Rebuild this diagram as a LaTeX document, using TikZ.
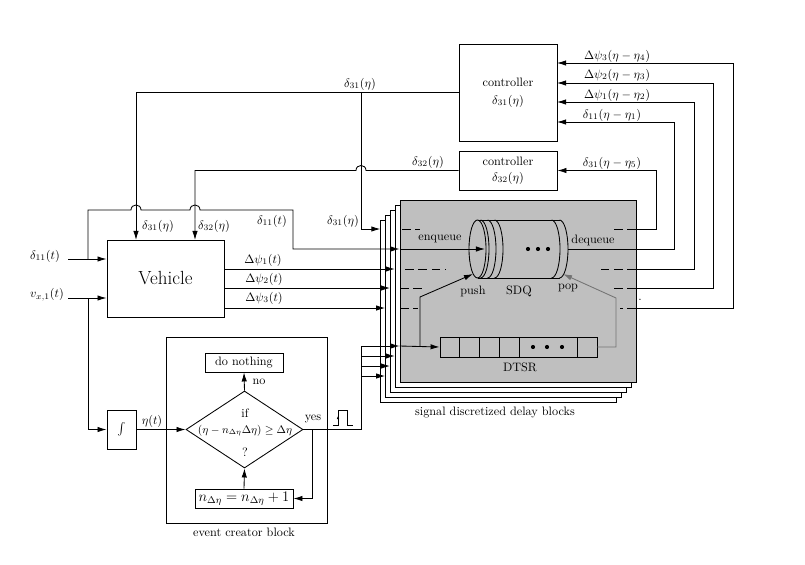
\documentclass[tikz,border=0pt]{standalone}
\usetikzlibrary{arrows.meta,shapes.geometric}
\def\upx{0.82pt}
\begin{document}
\begin{tikzpicture}[x=0.82pt,y=-0.82pt,line width=0.7pt,
  arr/.style={-{Latex[length=7.4pt,width=4.4pt]}},
  blk/.style={draw,inner sep=0pt,align=center},
  lbl/.style={inner sep=0pt},
  dsh/.style={dash pattern=on 7pt off 4pt}]
\useasboundingbox (0,0) rectangle (805,564);

% ---------- stacked signal discretized delay blocks
\foreach \k in {4,3,2,1}
  \node[blk,fill=white,minimum width=236*\upx,minimum height=182*\upx] (sb\k) at ({518-4.8*\k},{291+5*\k}) {};
\node[blk,fill=gray!50,minimum width=236*\upx,minimum height=182*\upx] (sb0) at (518,291) {};
\node[lbl] (sdbl) at (495,413) {signal discretized delay blocks};

% ---------- SDQ cylinder
\draw (477.5,249) ellipse [x radius=8.5*\upx, y radius=29*\upx];
\foreach \c in {480.5,487.5,494.5,551.5,559.5}
  \draw (\c,220) arc [start angle=90, end angle=-90, x radius=8.5*\upx, y radius=29*\upx];
\draw (477.5,220) -- (559.5,220);
\draw (477.5,278) -- (559.5,278);
\foreach \d in {528,538,548} \fill (\d,249) circle [radius=1.7pt];
\node[lbl] (enq) at (440,239) {enqueue};
\node[lbl] (deq) at (593,240) {dequeue};
\node[lbl] (push) at (473,291) {push};
\node[lbl] (sdq) at (519,291) {SDQ};
\node[lbl] (pop) at (568,288) {pop};

% ---------- DTSR
\node[blk,minimum width=157*\upx,minimum height=20*\upx] (dtsr) at (518.5,347) {};
\foreach \xx in {459,479,499,519,577} \draw (\xx,337) -- (\xx,357);
\foreach \d in {533,547,562} \fill (\d,347) circle [radius=1.7pt];
\node[lbl] (dtsrl) at (520,367) {DTSR};

% ---------- blocks
\node[blk,minimum width=117*\upx,minimum height=77*\upx,font=\fontsize{15.6}{18}\selectfont] (veh) at (165.5,278.5) {Vehicle};
\node[blk,minimum width=98*\upx,minimum height=97*\upx] (c1) at (508,92.5) {controller\\[2.5pt]$\delta_{31}(\eta)$};
\node[blk,minimum width=98*\upx,minimum height=39*\upx] (c2) at (508,170.5) {controller\\[1pt]$\delta_{32}(\eta)$};
\node[blk,minimum width=29*\upx,minimum height=39*\upx] (int) at (121.5,429.5) {$\int$};
\node[blk,minimum width=161*\upx,minimum height=186*\upx] (ev) at (246.5,430) {};
\node[lbl] (evl) at (244,532) {event creator block};
\node[draw,diamond,inner sep=0pt,minimum width=117*\upx,minimum height=77*\upx] (dia) at (244.5,429.5) {};
\node[lbl] (if) at (245,413) {if};
\node[lbl,font=\small] (cond) at (245,431) {$(\eta-n_{\Delta\eta}\Delta\eta)\geq\Delta\eta$};
\node[lbl] (qm) at (245,452) {?};
\node[blk,minimum width=78*\upx,minimum height=19*\upx] (dn) at (244,362.5) {do nothing};
\node[blk,minimum width=98*\upx,minimum height=19*\upx,font=\large] (nb) at (244,498.5) {$n_{\Delta\eta}=n_{\Delta\eta}+1$};

% ---------- coordinates
\coordinate (d11in) at (68,259);
\coordinate (vxin) at (68,298);
\coordinate (j1) at (88,259);
\coordinate (j2) at (88,298);
\coordinate (e11) at (293,249);
\coordinate (enqtip) at (485,249);
\coordinate (o1) at (224,269);
\coordinate (o2) at (224,288);
\coordinate (o3) at (224,308);
\coordinate (v31) at (136,240);
\coordinate (v32) at (195,240);
\coordinate (b31) at (361,92.5);
\coordinate (b31e) at (361,229);
\coordinate (r5) at (636,229);
\coordinate (cyr) at (568,249);
\coordinate (r1) at (636,269);
\coordinate (r2) at (636,288);
\coordinate (r3) at (636,308);
\coordinate (ci1) at (557,122);
\coordinate (ci2) at (557,102);
\coordinate (ci3) at (557,83);
\coordinate (ci4) at (557,63);
\coordinate (yb) at (312,429.5);
\coordinate (ye) at (361,429.5);
\coordinate (p0) at (361,346);
\coordinate (p1) at (361,356);
\coordinate (p2) at (361,366);
\coordinate (p3) at (361,376);
\coordinate (pb) at (420,346);
\coordinate (pushtip) at (473,274);
\coordinate (poptip) at (563,274);

% ---------- vehicle inputs
\node[lbl] (l11) at (45,256) {$\delta_{11}(t)$};
\node[lbl] (lvx) at (47,295) {$v_{x,1}(t)$};
\draw[arr] (d11in) -- (d11in -| veh.west);
\draw[arr] (vxin) -- (vxin -| veh.west);

% delta11 branch with hops
\draw[arr] (j1) -- (88,210) -- (131,210) .. controls (131,203.3) and (141,203.3) .. (141,210)
  -- (190,210) .. controls (190,203.3) and (200,203.3) .. (200,210) -- (293,210) -- (e11) -- (e11 -| sb0.west);
\draw[arr] (e11 -| sb0.west) -- (enqtip);
\node[lbl] (l11b) at (272,221) {$\delta_{11}(t)$};

% vx to integrator
\draw[arr] (j2) |- (int.west);

% vehicle outputs
\draw[arr] (o1) -- (o1 -| sb1.west);
\draw[arr] (o2) -- (o2 -| sb2.west);
\draw[arr] (o3) -- (o3 -| sb3.west);
\node[lbl] at (263,260) {$\Delta\psi_1(t)$};
\node[lbl] at (264,279) {$\Delta\psi_2(t)$};
\node[lbl] at (264,298) {$\Delta\psi_3(t)$};

% controller outputs
\draw[arr] (c1.west) -| (v31);
\draw[arr] (b31) -- (b31e) -- (b31e -| sb4.west);
\draw[arr] (c2.west) -- (366,170.5) .. controls (366,163.8) and (356,163.8) .. (356,170.5) -- (195,170.5) -- (v32);
\node[lbl] at (360,84) {$\delta_{31}(\eta)$};
\node[lbl] at (428,162) {$\delta_{32}(\eta)$};
\node[lbl] at (158,226) {$\delta_{31}(\eta)$};
\node[lbl] at (214,226) {$\delta_{32}(\eta)$};
\node[lbl] at (343,221) {$\delta_{31}(\eta)$};

% dashes inside main block
\draw[dsh] (402,229) -- (420,229);
\draw[dsh] (405,269) -- (446,269);
\draw[dsh] (400,288) -- (426,288);
\draw[dsh] (400,308) -- (418,308);
\draw[dsh] (r5) -- (611,229);
\draw[dsh] (r1) -- (596,269);
\draw[dsh] (r2) -- (611,288);
\draw[dsh] (r3) -- (620,308);

% returns to controllers
\draw[arr] (r5) -- (656,229) |- (c2.east);
\draw[arr] (cyr) -- (674,249) |- (ci1);
\draw[arr] (r1) -- (694,269) |- (ci2);
\draw[arr] (r2) -- (713,288) |- (ci3);
\draw[arr] (r3) -- (733,308) |- (ci4);
\node[lbl] at (617,56) {$\Delta\psi_3(\eta-\eta_4)$};
\node[lbl] at (617,75) {$\Delta\psi_2(\eta-\eta_3)$};
\node[lbl] at (617,95) {$\Delta\psi_1(\eta-\eta_2)$};
\node[lbl] at (612,115) {$\delta_{11}(\eta-\eta_1)$};
\node[lbl] at (612,163) {$\delta_{31}(\eta-\eta_5)$};
\node[lbl] at (640,300) {.};

% event creator
\draw[arr] (int.east) -- (dia.west);
\node[lbl] at (152,421) {$\eta(t)$};
\draw[arr] (dia.north) -- (dn.south);
\node[lbl] at (259,382) {no};
\draw[arr] (nb.north) -- (dia.south);
\draw (dia.east) -- (ye);
\draw[arr] (yb) |- (nb.east);
\node[lbl] at (313,419) {yes};
\draw (333,425) -- (338,425) -- (338,410) -- (347,410) -- (347,425) -- (353,425);
\draw[-{Latex[length=2.5pt,width=2.2pt]}] (338,421) -- (338,416);

% pulses to delay blocks
\draw (ye) -- (p0);
\draw[arr] (p0) -- (p0 -| sb0.west);
\draw[arr] (p1) -- (p1 -| sb1.west);
\draw[arr] (p2) -- (p2 -| sb2.west);
\draw[arr] (p3) -- (p3 -| sb3.west);

% inside block: DTSR, push, pop
\draw[arr] (p0 -| sb0.west) -- (dtsr.west);
\draw[arr] (pb) -- (420,297) -- (pushtip);
\draw[arr,black!55] (dtsr.east) -- (616,347) -- (616,298) -- (poptip);
\end{tikzpicture}
\end{document}
